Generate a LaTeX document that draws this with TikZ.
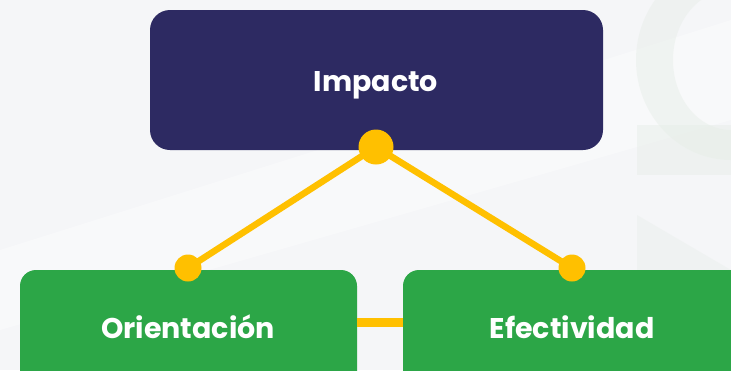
\documentclass[tikz,border=0pt]{standalone}
\usepackage{fontspec}
\setmainfont{Poppins}
\definecolor{bgc}{HTML}{F5F6F8}
\definecolor{navy}{HTML}{2D2A62}
\definecolor{grn}{HTML}{2CA647}
\definecolor{ylw}{HTML}{FFC000}
\definecolor{wm}{HTML}{E6EDE7}
\begin{document}
\begin{tikzpicture}[x=1pt,y=-1pt,
  lbl/.style={font=\bfseries\fontsize{28.5}{32}\selectfont,text=white},
  dotstyle/.style={circle,fill=ylw,inner sep=0pt},
  link/.style={draw=ylw,line width=6.5pt}]
\useasboundingbox (0,0) rectangle (731,370);
\clip (0,0) rectangle (731,370);
\fill[bgc] (0,0) rectangle (731,370);
% faint watermark
\fill[white,opacity=0.35] (0,250) -- (731,20) -- (731,120) -- (0,330) -- cycle;
\fill[wm,opacity=0.45,even odd rule] (731,60) ellipse (95 and 100) (731,60) ellipse (58 and 70);
\fill[wm,opacity=0.45] (637,125) rectangle (731,175);
\fill[wm,opacity=0.35] (637,215) -- (731,270) -- (637,270) -- cycle;
% boxes
\fill[navy,rounded corners=20pt] (150,10) rectangle (603,150);
\node[lbl] (imp) at (376,85) {Impacto};
\fill[grn,rounded corners=16pt] (20,270) rectangle (357,400);
\node[lbl] (ori) at (188,327) {Orientación};
\fill[grn,rounded corners=16pt] (403,270) rectangle (780,400);
\node[lbl] (efe) at (572,327) {Efectividad};
% connectors
\coordinate (ta) at (376,147);
\coordinate (la) at (188,268);
\coordinate (ra) at (572,268);
\coordinate (hl) at (357,322);
\coordinate (hr) at (403,322);
\draw[link] (ta) -- (la);
\draw[link] (ta) -- (ra);
\draw[draw=ylw,line width=9pt] (hl) -- (hr);
\node[dotstyle,minimum size=35pt] (td) at (ta) {};
\node[dotstyle,minimum size=27pt] (ld) at (la) {};
\node[dotstyle,minimum size=27pt] (rd) at (ra) {};
\end{tikzpicture}
\end{document}
